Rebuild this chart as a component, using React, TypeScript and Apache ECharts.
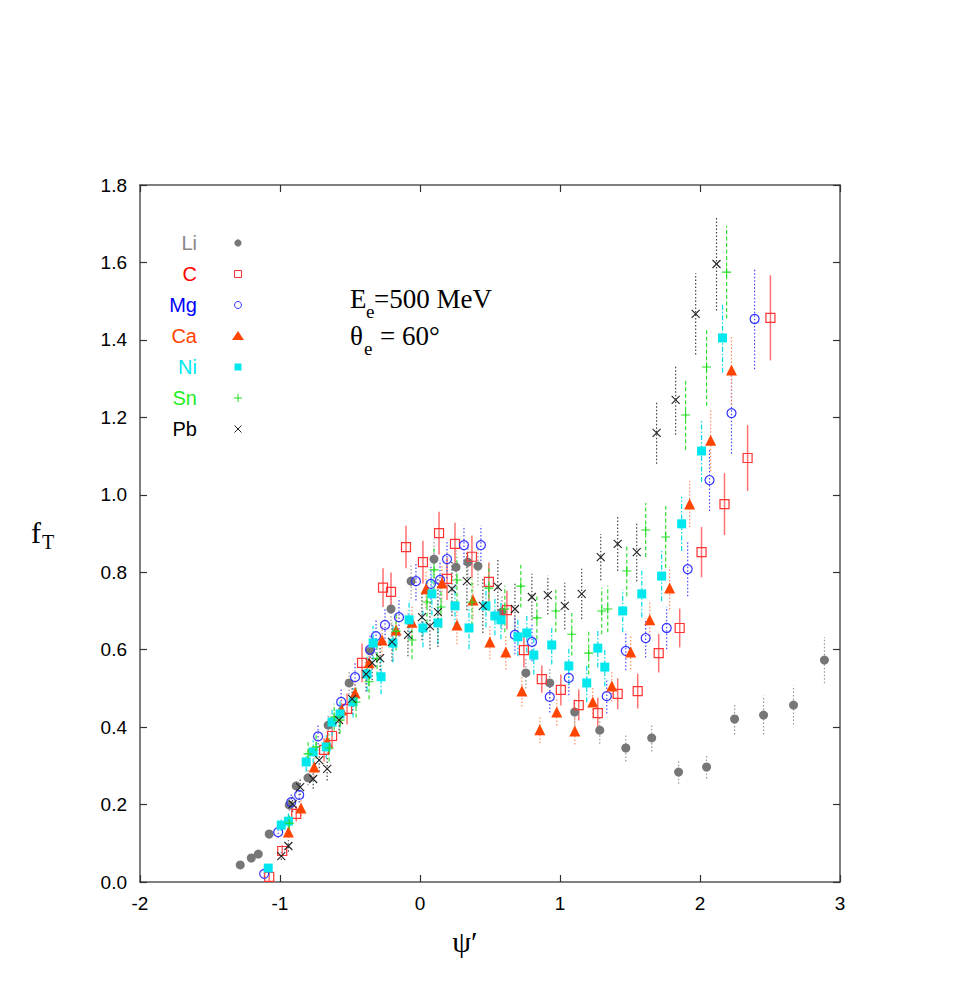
import React, { useEffect, useRef } from "react";
import * as echarts from "echarts";

// [psi', f_T, error]
const names = ["Li", "C", "Mg", "Ca", "Ni", "Sn", "Pb"];

const li = [
  [-1.284, 0.044, 0.01], [-1.205, 0.062, 0.01], [-1.155, 0.072, 0.01], [-1.077, 0.124, 0.012],
  [-0.934, 0.199, 0.015], [-0.884, 0.248, 0.018], [-0.8, 0.269, 0.02], [-0.656, 0.405, 0.025],
  [-0.506, 0.514, 0.03], [-0.357, 0.597, 0.035], [-0.207, 0.705, 0.04], [-0.064, 0.777, 0.045],
  [0.1, 0.834, 0.05], [0.257, 0.813, 0.05], [0.342, 0.826, 0.05], [0.414, 0.816, 0.05],
  [0.585, 0.697, 0.045], [0.756, 0.54, 0.04], [0.927, 0.514, 0.04], [1.105, 0.439, 0.035],
  [1.284, 0.392, 0.035], [1.47, 0.346, 0.035], [1.655, 0.372, 0.035], [1.847, 0.284, 0.03],
  [2.047, 0.297, 0.03], [2.247, 0.421, 0.04], [2.454, 0.431, 0.05], [2.668, 0.457, 0.05],
  [2.889, 0.573, 0.06],
];

const c = [
  [-1.077, 0.013, 0.01], [-0.984, 0.08, 0.015], [-0.884, 0.176, 0.02], [-0.685, 0.341, 0.03],
  [-0.628, 0.377, 0.035], [-0.521, 0.447, 0.04], [-0.414, 0.566, 0.05], [-0.264, 0.76, 0.05],
  [-0.207, 0.749, 0.05], [-0.1, 0.865, 0.055], [0.021, 0.826, 0.055], [0.136, 0.901, 0.055],
  [0.193, 0.783, 0.055], [0.25, 0.873, 0.055], [0.371, 0.84, 0.055], [0.492, 0.775, 0.05],
  [0.621, 0.702, 0.05], [0.742, 0.599, 0.045], [0.87, 0.524, 0.035], [1.006, 0.496, 0.04],
  [1.134, 0.457, 0.04], [1.27, 0.436, 0.04], [1.412, 0.486, 0.04], [1.555, 0.493, 0.045],
  [1.705, 0.591, 0.05], [1.855, 0.656, 0.05], [2.011, 0.852, 0.065], [2.175, 0.976, 0.08],
  [2.34, 1.095, 0.085], [2.503, 1.457, 0.11],
];

const mg = [
  [-1.113, 0.021, 0.01], [-1.013, 0.129, 0.015], [-0.92, 0.206, 0.02], [-0.863, 0.225, 0.02],
  [-0.728, 0.376, 0.03], [-0.563, 0.465, 0.035], [-0.464, 0.529, 0.04], [-0.357, 0.6, 0.04],
  [-0.314, 0.635, 0.045], [-0.25, 0.664, 0.045], [-0.15, 0.684, 0.05], [-0.029, 0.777, 0.05],
  [0.078, 0.77, 0.05], [0.143, 0.78, 0.05], [0.193, 0.834, 0.05], [0.314, 0.87, 0.05],
  [0.435, 0.87, 0.05], [0.678, 0.638, 0.05], [0.8, 0.62, 0.05], [0.927, 0.478, 0.04],
  [1.063, 0.527, 0.045], [1.334, 0.48, 0.045], [1.47, 0.597, 0.05], [1.612, 0.63, 0.05],
  [1.762, 0.656, 0.055], [1.912, 0.808, 0.07], [2.068, 1.038, 0.08], [2.225, 1.211, 0.105],
  [2.39, 1.454, 0.13],
];

const ca = [
  [-0.94, 0.129, 0.015], [-0.85, 0.191, 0.02], [-0.756, 0.297, 0.025], [-0.663, 0.362, 0.03],
  [-0.56, 0.444, 0.03], [-0.464, 0.488, 0.035], [-0.364, 0.566, 0.04], [-0.271, 0.625, 0.04],
  [-0.171, 0.651, 0.045], [-0.057, 0.671, 0.045], [0.043, 0.757, 0.05], [0.157, 0.772, 0.05],
  [0.264, 0.664, 0.05], [0.378, 0.728, 0.05], [0.499, 0.62, 0.045], [0.613, 0.594, 0.045],
  [0.728, 0.493, 0.04], [0.856, 0.393, 0.035], [0.977, 0.439, 0.035], [1.106, 0.39, 0.035],
  [1.234, 0.465, 0.04], [1.37, 0.506, 0.04], [1.505, 0.594, 0.045], [1.641, 0.677, 0.05],
  [1.783, 0.759, 0.055], [1.926, 0.976, 0.06], [2.076, 1.141, 0.08], [2.225, 1.322, 0.09],
];

const ni = [
  [-1.084, 0.036, 0.01], [-0.991, 0.147, 0.015], [-0.94, 0.157, 0.02], [-0.813, 0.31, 0.025],
  [-0.763, 0.336, 0.03], [-0.67, 0.349, 0.03], [-0.628, 0.413, 0.035], [-0.571, 0.434, 0.035],
  [-0.478, 0.465, 0.04], [-0.378, 0.537, 0.045], [-0.335, 0.617, 0.045], [-0.278, 0.53, 0.045],
  [-0.193, 0.617, 0.05], [-0.078, 0.677, 0.05], [0.021, 0.656, 0.05], [0.085, 0.744, 0.055],
  [0.128, 0.669, 0.055], [0.25, 0.713, 0.055], [0.35, 0.656, 0.055], [0.471, 0.713, 0.055],
  [0.535, 0.687, 0.05], [0.578, 0.677, 0.05], [0.699, 0.633, 0.05], [0.763, 0.643, 0.05],
  [0.813, 0.586, 0.05], [0.941, 0.612, 0.05], [1.063, 0.558, 0.05], [1.191, 0.514, 0.05],
  [1.27, 0.604, 0.05], [1.32, 0.555, 0.05], [1.448, 0.7, 0.055], [1.584, 0.744, 0.06],
  [1.726, 0.79, 0.065], [1.869, 0.925, 0.07], [2.011, 1.113, 0.08], [2.161, 1.405, 0.09],
];

const sn = [
  [-0.934, 0.152, 0.02], [-0.799, 0.331, 0.03], [-0.742, 0.349, 0.03], [-0.649, 0.346, 0.035],
  [-0.613, 0.426, 0.035], [-0.571, 0.418, 0.035], [-0.457, 0.465, 0.04], [-0.364, 0.517, 0.045],
  [-0.307, 0.578, 0.045], [-0.171, 0.648, 0.05], [-0.057, 0.625, 0.05], [0.05, 0.723, 0.055],
  [0.1, 0.806, 0.055], [0.15, 0.71, 0.055], [0.264, 0.78, 0.06], [0.371, 0.723, 0.06],
  [0.492, 0.759, 0.06], [0.606, 0.705, 0.06], [0.72, 0.764, 0.055], [0.835, 0.682, 0.055],
  [0.97, 0.7, 0.055], [1.084, 0.64, 0.055], [1.205, 0.591, 0.055], [1.298, 0.7, 0.06],
  [1.341, 0.705, 0.06], [1.477, 0.803, 0.065], [1.612, 0.909, 0.07], [1.755, 0.891, 0.08],
  [1.897, 1.206, 0.09], [2.047, 1.33, 0.1], [2.19, 1.575, 0.12],
];

const pb = [
  [-0.991, 0.067, 0.01], [-0.94, 0.093, 0.015], [-0.91, 0.201, 0.02], [-0.856, 0.245, 0.02],
  [-0.763, 0.266, 0.025], [-0.72, 0.315, 0.03], [-0.663, 0.292, 0.03], [-0.578, 0.418, 0.035],
  [-0.485, 0.473, 0.04], [-0.385, 0.537, 0.045], [-0.342, 0.566, 0.045], [-0.285, 0.578, 0.05],
  [-0.2, 0.62, 0.05], [-0.086, 0.638, 0.055], [0.014, 0.684, 0.06], [0.071, 0.661, 0.06],
  [0.128, 0.697, 0.09], [0.228, 0.757, 0.07], [0.335, 0.777, 0.075], [0.449, 0.713, 0.07],
  [0.556, 0.762, 0.07], [0.678, 0.705, 0.065], [0.799, 0.736, 0.06], [0.913, 0.741, 0.05],
  [1.034, 0.713, 0.06], [1.155, 0.744, 0.065], [1.291, 0.839, 0.06], [1.412, 0.873, 0.07],
  [1.548, 0.852, 0.075], [1.69, 1.16, 0.08], [1.826, 1.245, 0.09], [1.969, 1.467, 0.105],
  [2.118, 1.596, 0.12],
];

const xTicks = { min: -2, max: 3, interval: 1 };
const yTicks = { min: 0, max: 1.8, interval: 0.2 };

const datasets = [li, c, mg, ca, ni, sn, pb];
const labelColors = ["#888888", "#ff0000", "#0000ff", "#ff4500", "#00e8ee", "#22ee22", "#000000"];
const markerStyles: any[] = [
  { symbol: "circle", size: 9, item: { color: "#777777" } },
  { symbol: "rect", size: 9, item: { color: "rgba(0,0,0,0)", borderColor: "#ff3333", borderWidth: 1.2 } },
  { symbol: "circle", size: 9, item: { color: "rgba(0,0,0,0)", borderColor: "#3333ff", borderWidth: 1.2 } },
  { symbol: "triangle", size: 11, item: { color: "#ff4500" } },
  { symbol: "rect", size: 9, item: { color: "#00e8ee" } },
  { symbol: "path://M0,5L10,5M5,0L5,10", size: 9, item: { color: "rgba(0,0,0,0)", borderColor: "#22dd22", borderWidth: 1.1 } },
  { symbol: "path://M0,0L10,10M10,0L0,10", size: 8, item: { color: "rgba(0,0,0,0)", borderColor: "#222222", borderWidth: 1.1 } },
];
const errStyles = [
  { stroke: "#999999", lineWidth: 1.2, lineDash: [1.5, 2] },
  { stroke: "#ff7070", lineWidth: 1.5, lineDash: null },
  { stroke: "#4848ff", lineWidth: 1.2, lineDash: [1.5, 2] },
  { stroke: "#ff8c60", lineWidth: 1.2, lineDash: [1.5, 2] },
  { stroke: "#00dde8", lineWidth: 1.2, lineDash: [5, 2, 1.5, 2] },
  { stroke: "#33dd33", lineWidth: 1.2, lineDash: [4, 2.5] },
  { stroke: "#444444", lineWidth: 1.2, lineDash: [1.5, 2] },
];

const axisColor = "#555555";
const serif = "'Liberation Serif', 'Times New Roman', serif";
const sans = "'Liberation Sans', Arial, sans-serif";

export default function App() {
  const ref = useRef<HTMLDivElement>(null);
  useEffect(() => {
    if (!ref.current) return;
    const chart = echarts.init(ref.current, null, { renderer: "svg" });

    const errSeries = datasets.map((d, i) => ({
      type: "custom",
      name: names[i] + "-err",
      data: d,
      encode: { x: 0, y: 1 },
      z: 1,
      silent: true,
      renderItem: (params: any, api: any) => {
        const x = api.value(0);
        const y = api.value(1);
        const e = api.value(2);
        const p1 = api.coord([x, y - e]);
        const p2 = api.coord([x, y + e]);
        const st = errStyles[i];
        const style: any = { stroke: st.stroke, lineWidth: st.lineWidth };
        if (st.lineDash) style.lineDash = st.lineDash;
        return { type: "line", shape: { x1: p1[0], y1: p1[1], x2: p2[0], y2: p2[1] }, style };
      },
    }));

    const scatterSeries = datasets.map((d, i) => ({
      type: "scatter",
      name: names[i],
      data: d.map((p) => [p[0], p[1]]),
      symbol: markerStyles[i].symbol,
      symbolSize: markerStyles[i].size,
      itemStyle: { ...markerStyles[i].item, opacity: 1 },
      z: 2 + i * 0.01,
      silent: true,
    }));

    const lx = 238;
    const rowY = [243, 274, 305, 336, 367, 398, 429];
    const legendGraphics: any[] = [];
    names.forEach((n, i) => {
      legendGraphics.push({
        type: "text",
        x: 197,
        y: rowY[i],
        style: { text: n, fill: labelColors[i], font: `20px ${sans}`, align: "right", verticalAlign: "middle" },
      });
    });
    const yy = rowY;
    legendGraphics.push(
      { type: "circle", shape: { cx: lx, cy: yy[0], r: 3.6 }, style: { fill: "#777777" } },
      { type: "rect", shape: { x: lx - 3.5, y: yy[1] - 3.5, width: 7, height: 7 }, style: { fill: "none", stroke: "#ff3333", lineWidth: 1 } },
      { type: "circle", shape: { cx: lx, cy: yy[2], r: 3.5 }, style: { fill: "none", stroke: "#3333ff", lineWidth: 1 } },
      { type: "polygon", shape: { points: [[lx, yy[3] - 5], [lx + 6, yy[3] + 4], [lx - 6, yy[3] + 4]] }, style: { fill: "#ff4500" } },
      { type: "rect", shape: { x: lx - 3.5, y: yy[4] - 3.5, width: 7, height: 7 }, style: { fill: "#00e8ee" } },
      { type: "line", shape: { x1: lx - 4, y1: yy[5], x2: lx + 4, y2: yy[5] }, style: { stroke: "#22dd22", lineWidth: 1 } },
      { type: "line", shape: { x1: lx, y1: yy[5] - 4, x2: lx, y2: yy[5] + 4 }, style: { stroke: "#22dd22", lineWidth: 1 } },
      { type: "line", shape: { x1: lx - 3.5, y1: yy[6] - 3.5, x2: lx + 3.5, y2: yy[6] + 3.5 }, style: { stroke: "#222222", lineWidth: 1 } },
      { type: "line", shape: { x1: lx + 3.5, y1: yy[6] - 3.5, x2: lx - 3.5, y2: yy[6] + 3.5 }, style: { stroke: "#222222", lineWidth: 1 } }
    );

    const textGraphics: any[] = [
      { type: "text", x: 350, y: 299, style: { text: "E", font: `27px ${serif}`, fill: "#000", verticalAlign: "middle" } },
      { type: "text", x: 366, y: 311, style: { text: "e", font: `19px ${serif}`, fill: "#000", verticalAlign: "middle" } },
      { type: "text", x: 374, y: 299, style: { text: "=500 MeV", font: `27px ${serif}`, fill: "#000", verticalAlign: "middle" } },
      { type: "text", x: 350, y: 336, style: { text: "θ", font: `27px ${serif}`, fill: "#000", verticalAlign: "middle" } },
      { type: "text", x: 364, y: 348, style: { text: "e", font: `19px ${serif}`, fill: "#000", verticalAlign: "middle" } },
      { type: "text", x: 380, y: 336, style: { text: "= 60°", font: `27px ${serif}`, fill: "#000", verticalAlign: "middle" } },
      { type: "text", x: 465, y: 941, style: { text: "ψ′", font: `30px ${serif}`, fill: "#000", align: "center", verticalAlign: "middle" } },
      { type: "text", x: 31, y: 532, style: { text: "f", font: `30px ${serif}`, fill: "#000", verticalAlign: "middle" } },
      { type: "text", x: 42, y: 542, style: { text: "T", font: `20px ${serif}`, fill: "#000", verticalAlign: "middle" } },
    ];

    const lineStyle = { color: axisColor, width: 1.5 };
    const baseX = {
      type: "value",
      min: xTicks.min,
      max: xTicks.max,
      interval: xTicks.interval,
      splitLine: { show: false },
      axisLine: { show: true, onZero: false, lineStyle },
      axisTick: { show: true, inside: true, length: 7, lineStyle: { color: "#333", width: 1.2 } },
    };
    const baseY = {
      type: "value",
      min: yTicks.min,
      max: yTicks.max,
      interval: yTicks.interval,
      splitLine: { show: false },
      axisLine: { show: true, onZero: false, lineStyle },
      axisTick: { show: true, inside: true, length: 7, lineStyle: { color: "#333", width: 1.2 } },
    };

    chart.setOption({
      animation: false,
      backgroundColor: "#ffffff",
      grid: { left: 140, top: 185, width: 700, height: 697, containLabel: false },
      xAxis: [
        {
          ...baseX,
          position: "bottom",
          axisLabel: { fontSize: 19, fontFamily: sans, color: "#000", margin: 12 },
        },
        { ...baseX, position: "top", axisLabel: { show: false } },
      ],
      yAxis: [
        {
          ...baseY,
          position: "left",
          axisLabel: { fontSize: 19, fontFamily: sans, color: "#000", margin: 13, formatter: (v: number) => v.toFixed(1) },
        },
        { ...baseY, position: "right", axisLabel: { show: false } },
      ],
      series: [...errSeries, ...scatterSeries],
      graphic: [...legendGraphics, ...textGraphics],
    });
    return () => chart.dispose();
  }, []);
  return <div ref={ref} style={{ position: "fixed", left: 0, top: 0, width: 979, height: 981 }} />;
}
